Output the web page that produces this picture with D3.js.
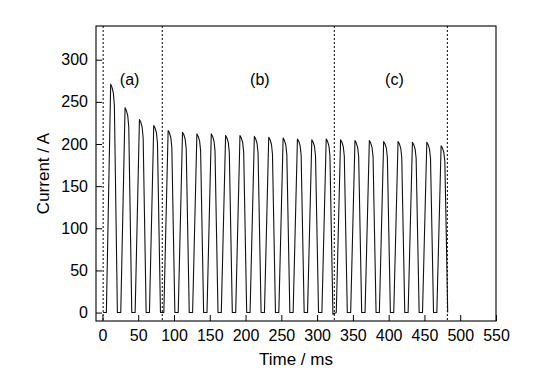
<!DOCTYPE html>
<html>
<head>
<meta charset="utf-8">
<script src="https://cdn.jsdelivr.net/npm/d3@7"></script>
<style>
  html, body { margin: 0; padding: 0; background: #fff; }
  svg { display: block; }
  text { font-family: "Liberation Sans", Arial, sans-serif; fill: #000; }
</style>
</head>
<body>
<svg id="chart" width="545" height="379"></svg>
<script>
// ---- data ----
const xTicks = [0, 50, 100, 150, 200, 250, 300, 350, 400, 450, 500, 550];
const yTicks = [0, 50, 100, 150, 200, 250, 300];
const sectionBounds = [1, 83.6, 324, 482];
const sectionLabels = ["(a)", "(b)", "(c)"];
const sectionLabelX = [38, 220, 408];   // ms, label centres
const sectionLabelY = 275;              // A

const timeMs = [
  1,
  5.5, 11.5, 13.4, 15.3, 16.7, 18.8, 20.9,
  25.6, 31.6, 33.5, 35.4, 36.8, 38.9, 41.0,
  45.7, 51.7, 53.6, 55.5, 56.9, 59.0, 61.1,
  65.7, 71.7, 73.6, 75.5, 76.9, 79.0, 81.1,
  85.8, 91.8, 93.7, 95.6, 97.0, 99.1, 101.2,
  105.9, 111.9, 113.8, 115.7, 117.1, 119.2, 121.3,
  126.0, 132.0, 133.9, 135.8, 137.2, 139.3, 141.4,
  146.1, 152.1, 154.0, 155.9, 157.3, 159.4, 161.5,
  166.1, 172.1, 174.0, 175.9, 177.3, 179.4, 181.5,
  186.2, 192.2, 194.1, 196.0, 197.4, 199.5, 201.6,
  206.3, 212.3, 214.2, 216.1, 217.5, 219.6, 221.7,
  226.4, 232.4, 234.3, 236.2, 237.6, 239.7, 241.8,
  246.5, 252.5, 254.4, 256.3, 257.7, 259.8, 261.9,
  266.5, 272.5, 274.4, 276.3, 277.7, 279.8, 281.9,
  286.6, 292.6, 294.5, 296.4, 297.8, 299.9, 302.0,
  306.7, 312.7, 314.6, 316.5, 317.9, 320.0, 322.1,
  326.8, 332.8, 334.7, 336.6, 338.0, 340.1, 342.2,
  346.9, 352.9, 354.8, 356.7, 358.1, 360.2, 362.3,
  367.0, 373.0, 374.9, 376.8, 378.2, 380.3, 382.4,
  387.0, 393.0, 394.9, 396.8, 398.2, 400.3, 402.4,
  407.1, 413.1, 415.0, 416.9, 418.3, 420.4, 422.5,
  427.2, 433.2, 435.1, 437.0, 438.4, 440.5, 442.6,
  447.3, 453.3, 455.2, 457.1, 458.5, 460.6, 462.7,
  467.3, 473.3, 475.2, 477.1, 478.5, 480.6, 482.5
];
const currentA = [
  0,
  0, 271, 267.2, 260.2, 245.3, 122.0, 0,
  0, 243, 239.6, 233.3, 219.9, 109.4, 0,
  0, 229, 225.8, 219.8, 207.2, 103.1, 0,
  0, 222, 218.9, 213.1, 200.9, 99.9, 0,
  0, 216, 213.0, 207.4, 195.5, 97.2, 0,
  0, 214, 211.0, 205.4, 193.7, 96.3, 0,
  0, 212, 209.0, 203.5, 191.9, 95.4, 0,
  0, 212, 209.0, 203.5, 191.9, 95.4, 0,
  0, 210, 207.1, 201.6, 190.1, 94.5, 0,
  0, 210, 207.1, 201.6, 190.1, 94.5, 0,
  0, 209, 206.1, 200.6, 189.1, 94.1, 0,
  0, 208, 205.1, 199.7, 188.2, 93.6, 0,
  0, 207, 204.1, 198.7, 187.3, 93.2, 0,
  0, 206, 203.1, 197.8, 186.4, 92.7, 0,
  0, 205, 202.1, 196.8, 185.5, 92.3, 0,
  0, 206, 203.1, 197.8, 186.4, 92.7, -2,
  0, 205, 202.1, 196.8, 185.5, 92.3, 0,
  0, 204, 201.1, 195.8, 184.6, 91.8, 0,
  0, 204, 201.1, 195.8, 184.6, 91.8, 0,
  0, 203, 200.2, 194.9, 183.7, 91.4, 0,
  0, 203, 200.2, 194.9, 183.7, 91.4, 0,
  0, 202, 199.2, 193.9, 182.8, 90.9, 0,
  0, 202, 199.2, 193.9, 182.8, 90.9, 0,
  0, 198, 195.2, 190.1, 179.2, 89.1, 0
];

// ---- layout ----
const frame = { left: 96, right: 496, top: 26, bottom: 321 };
const svg = d3.select("#chart");

const x = d3.scaleLinear().domain([-9, 550]).range([frame.left, frame.right]);
const y = d3.scaleLinear().domain([-10, 340]).range([frame.bottom, frame.top]);

// axes (ticks pointing inward)
const xAxis = d3.axisBottom(x).tickValues(xTicks).tickSizeInner(-6).tickSizeOuter(0).tickPadding(9);
const yAxis = d3.axisLeft(y).tickValues(yTicks).tickSizeInner(-6).tickSizeOuter(0).tickPadding(8);

const gx = svg.append("g").attr("transform", `translate(0,${frame.bottom})`).call(xAxis);
const gy = svg.append("g").attr("transform", `translate(${frame.left},0)`).call(yAxis);
[gx, gy].forEach(g => {
  g.select(".domain").remove();
  g.selectAll(".tick line").attr("stroke", "#000").attr("stroke-width", 1);
  g.selectAll(".tick text").style("font-size", "16px").attr("fill", "#000");
});
gx.selectAll(".tick text").attr("dy", "0.71em");

// frame
svg.append("rect")
  .attr("x", frame.left).attr("y", frame.top)
  .attr("width", frame.right - frame.left).attr("height", frame.bottom - frame.top)
  .attr("fill", "none").attr("stroke", "#000").attr("stroke-width", 1.1);

// dashed section separators
svg.append("g").selectAll("line").data(sectionBounds).join("line")
  .attr("x1", d => x(d)).attr("x2", d => x(d))
  .attr("y1", frame.top).attr("y2", frame.bottom)
  .attr("stroke", "#000").attr("stroke-width", 1)
  .attr("stroke-dasharray", "2,2");

// current trace
const pts = timeMs.map((t, i) => [t, currentA[i]]);
const line = d3.line().x(d => x(d[0])).y(d => y(d[1]));
svg.append("path").datum(pts)
  .attr("d", line)
  .attr("fill", "none").attr("stroke", "#111").attr("stroke-width", 1.1)
  .attr("stroke-linejoin", "round");

// section labels
svg.append("g").selectAll("text").data(sectionLabels).join("text")
  .attr("x", (d, i) => x(sectionLabelX[i]))
  .attr("y", y(sectionLabelY))
  .attr("text-anchor", "middle")
  .attr("dominant-baseline", "middle")
  .style("font-size", "16px")
  .text(d => d);

// axis titles
svg.append("text")
  .attr("x", (frame.left + frame.right) / 2).attr("y", 361)
  .attr("text-anchor", "middle").attr("dominant-baseline", "middle")
  .style("font-size", "17px").text("Time / ms");
svg.append("text")
  .attr("transform", `translate(45,${(frame.top + frame.bottom) / 2}) rotate(-90)`)
  .attr("text-anchor", "middle").attr("dominant-baseline", "middle")
  .style("font-size", "17px").text("Current / A");
</script>
</body>
</html>
